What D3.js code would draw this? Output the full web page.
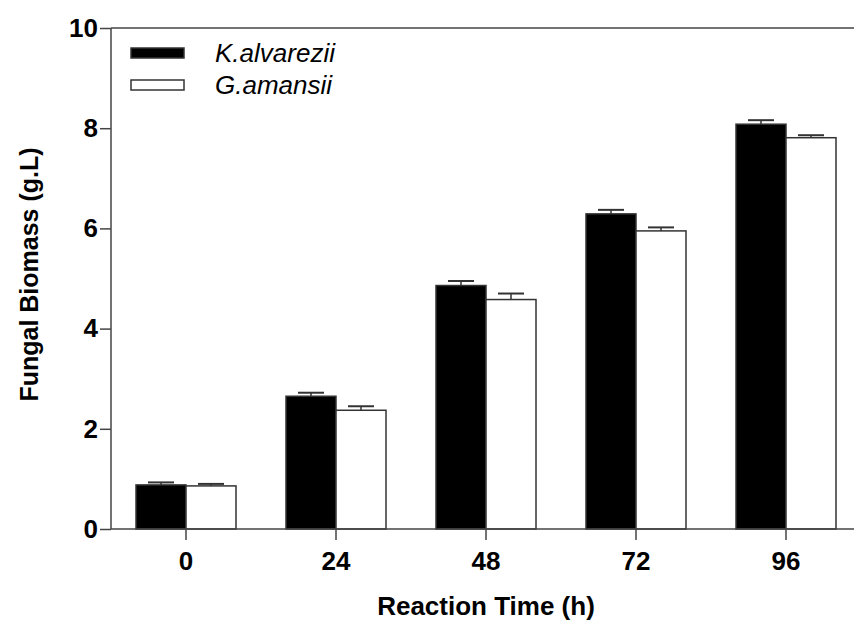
<!DOCTYPE html>
<html>
<head>
<meta charset="UTF-8">
<title>Fungal Biomass</title>
<script src="https://cdn.jsdelivr.net/npm/d3@7"></script>
<style>
  body { margin: 0; background: #fff; }
  svg text { font-family: "Liberation Sans", Arial, sans-serif; fill: #000; }
</style>
</head>
<body>
<div id="chart"></div>
<script>
// data
var times = ["0", "24", "48", "72", "96"];
var seriesNames = ["K.alvarezii", "G.amansii"];
var kValues = [0.88, 2.65, 4.86, 6.29, 8.08];
var kErrors = [0.05, 0.07, 0.09, 0.08, 0.08];
var gValues = [0.86, 2.37, 4.58, 5.95, 7.81];
var gErrors = [0.04, 0.08, 0.12, 0.07, 0.05];
var yTicks = [0, 2, 4, 6, 8, 10];

var W = 854, H = 623;
var margin = {top: 28, right: -7, bottom: 94, left: 111},
    width = W - margin.left - margin.right,
    height = H - margin.top - margin.bottom;

var svg = d3.select("#chart").append("svg")
    .attr("width", W).attr("height", H)
  .append("g")
    .attr("transform", `translate(${margin.left},${margin.top})`);

var x = d3.scaleBand().domain(times).range([0, width]).padding(0);
var x1 = d3.scaleBand().domain(seriesNames).range([0, 100]);
var y = d3.scaleLinear().domain([0, 10]).range([height, 0]);

var rows = times.map(function(t, i) {
    return [
        {t: t, s: seriesNames[0], v: kValues[i], e: kErrors[i], fill: "#000"},
        {t: t, s: seriesNames[1], v: gValues[i], e: gErrors[i], fill: "#fff"}
    ];
});

// centre the pair of bars on each band
var off = (x.bandwidth() - 100) / 2;

var groups = svg.selectAll(".grp")
    .data(rows).enter().append("g")
    .attr("transform", function(d) { return `translate(${x(d[0].t) + off},0)`; });

// error bars (upper half only)
groups.selectAll(".err").data(function(d) { return d; }).enter()
    .append("g").each(function(d) {
        var g = d3.select(this), cx = x1(d.s) + x1.bandwidth() / 2;
        g.append("line").attr("x1", cx).attr("x2", cx)
            .attr("y1", y(d.v)).attr("y2", y(d.v + d.e))
            .attr("stroke", "#333").attr("stroke-width", 1.5);
        g.append("line").attr("x1", cx - 13).attr("x2", cx + 13)
            .attr("y1", y(d.v + d.e)).attr("y2", y(d.v + d.e))
            .attr("stroke", "#333").attr("stroke-width", 2);
    });

groups.selectAll("rect").data(function(d) { return d; }).enter()
    .append("rect")
    .attr("x", function(d) { return x1(d.s); })
    .attr("y", function(d) { return y(d.v); })
    .attr("width", x1.bandwidth())
    .attr("height", function(d) { return height - y(d.v); })
    .attr("fill", function(d) { return d.fill; })
    .attr("stroke", "#333")
    .attr("stroke-width", 1.5);

// y axis
var yAxis = svg.append("g")
    .call(d3.axisLeft(y).tickValues(yTicks).tickSize(11).tickPadding(2).tickFormat(d3.format("d")));
yAxis.selectAll("text").style("font-size", "26px").style("font-weight", "bold");

// x axis
var xAxis = svg.append("g")
    .attr("transform", `translate(0,${height})`)
    .call(d3.axisBottom(x).tickSize(11).tickPadding(12));
xAxis.selectAll("text").style("font-size", "26px").style("font-weight", "bold");

svg.selectAll(".domain, .tick line").attr("stroke", "#444").attr("stroke-width", 1.5);
yAxis.select(".domain").attr("d", `M0,0V${height}`);
xAxis.select(".domain").attr("d", `M0,0H${width}`);

// top line
svg.append("line").attr("x1", 0).attr("x2", width).attr("y1", 0).attr("y2", 0)
    .attr("stroke", "#444").attr("stroke-width", 1.5);

// axis titles
svg.append("text")
    .attr("x", x("48") + x.bandwidth() / 2)
    .attr("y", height + 86)
    .attr("text-anchor", "middle")
    .style("font-size", "26px").style("font-weight", "bold")
    .text("Reaction Time (h)");

svg.append("text")
    .attr("transform", `translate(${-73},${y(5) - 4}) rotate(-90)`)
    .attr("text-anchor", "middle")
    .style("font-size", "25px").style("font-weight", "bold")
    .text("Fungal Biomass (g.L)");

// legend
var legend = svg.selectAll(".leg").data(seriesNames).enter().append("g")
    .attr("transform", function(d, i) { return `translate(20,${20 + i * 32})`; });
legend.append("rect")
    .attr("width", 53).attr("height", 10)
    .attr("fill", function(d, i) { return i === 0 ? "#000" : "#fff"; })
    .attr("stroke", "#333").attr("stroke-width", 1.5);
legend.append("text")
    .attr("x", 84).attr("y", 14)
    .style("font-size", "26px").style("font-style", "italic")
    .text(function(d) { return d; });
</script>
</body>
</html>
